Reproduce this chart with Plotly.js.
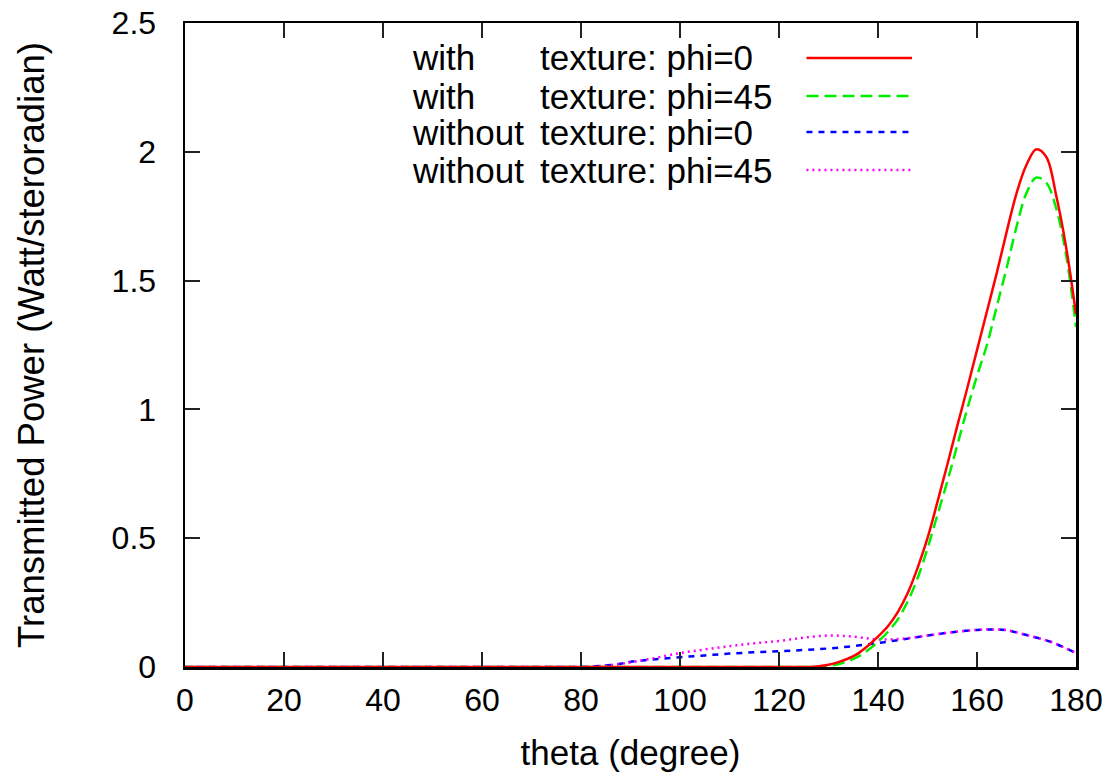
<!DOCTYPE html>
<html>
<head>
<meta charset="utf-8">
<script src="https://cdn.plot.ly/plotly-3.0.1.min.js"></script>
<style>html,body{margin:0;padding:0;background:#fff;}#chart{width:1113px;height:779px;}</style>
</head>
<body>
<div id="chart"></div>
<script>
// ---- data ----
const thetaWith0 = [0,20,40,60,80,100,110,120,124,126,128,130,132,134,136,138,140,142,144,146,148,150,152,154,156,158,160,162,164,166,168,170,172,174,176,178,180];
const powerWith0 = [0,0,0,0,0,0,0,0,0,0,0.003,0.009,0.019,0.033,0.053,0.083,0.118,0.158,0.213,0.287,0.385,0.5,0.64,0.785,0.935,1.08,1.23,1.38,1.53,1.69,1.84,1.95,2.01,1.98,1.83,1.63,1.37];

const thetaWith45 = [0,20,40,60,80,100,110,120,124,126,128,130,132,134,136,138,140,142,144,146,148,150,152,154,156,158,160,162,164,166,168,170,172,174,176,178,180];
const powerWith45 = [0,0,0,0,0,0,0,0,0,0,0,0.004,0.011,0.023,0.04,0.066,0.098,0.137,0.185,0.255,0.345,0.46,0.59,0.72,0.86,1.0,1.13,1.25,1.40,1.55,1.71,1.84,1.9,1.88,1.78,1.6,1.32];

const thetaWithout = [0,20,40,60,76,80,84,88,90,95,100,105,110,115,120,125,130,135,140,145,150,155,160,163,166,170,175,180];
const powerWithout0 = [0,0,0,0,0,0,0.004,0.013,0.02,0.03,0.038,0.045,0.052,0.057,0.061,0.066,0.072,0.081,0.093,0.107,0.122,0.135,0.144,0.146,0.143,0.124,0.097,0.054];
const powerWithout45 = [0,0,0,0,0,0,0.004,0.012,0.018,0.035,0.054,0.068,0.081,0.092,0.101,0.114,0.122,0.118,0.107,0.11,0.122,0.135,0.144,0.146,0.143,0.124,0.097,0.054];

const seriesNames = ["with", "with", "without", "without"];
const seriesTexts = ["texture: phi=0", "texture: phi=45", "texture: phi=0", "texture: phi=45"];
const xTicks = [0,20,40,60,80,100,120,140,160,180];
const yTicks = [0,0.5,1,1.5,2,2.5];
const yTickText = ["0","0.5","1","1.5","2","2.5"];

// ---- styles ----
const colors = ["#ff0000", "#00ee00", "#0000ff", "#ff00ff"];
const dashes = ["solid", "12px,6px", "6px,6px", "2px,4px"];
const font = "Liberation Sans, Arial, Helvetica, sans-serif";

const xs = [thetaWith0, thetaWith45, thetaWithout, thetaWithout];
const ys = [powerWith0, powerWith45, powerWithout0, powerWithout45];

// blue under magenta, then green, red on top
const order = [2, 3, 1, 0];
const traces = order.map(i => ({
  x: xs[i], y: ys[i], type: "scatter", mode: "lines",
  name: seriesNames[i] + " " + seriesTexts[i],
  line: {color: colors[i], width: 2.5, dash: dashes[i], shape: "spline", smoothing: 1},
  showlegend: false, hoverinfo: "skip"
}));

// manual gnuplot-style key: text on left, sample line on right
const rowY = [0.9457, 0.8866, 0.8306, 0.7717];
const annotations = [];
const shapes = [];
for (let i = 0; i < 4; i++) {
  annotations.push({xref: "paper", yref: "paper", x: 0.2525, y: rowY[i], xanchor: "left", yanchor: "middle",
    text: seriesNames[i], showarrow: false, font: {family: font, size: 35, color: "#000"}});
  annotations.push({xref: "paper", yref: "paper", x: 0.3965, y: rowY[i], xanchor: "left", yanchor: "middle",
    text: seriesTexts[i], showarrow: false, font: {family: font, size: 35, color: "#000"}});
  shapes.push({type: "line", xref: "paper", yref: "paper", x0: 0.6975, x1: 0.8159, y0: rowY[i], y1: rowY[i],
    line: {color: colors[i], width: 2.5, dash: dashes[i]}});
}

const axisCommon = {
  showline: true, linecolor: "#000", linewidth: 2.5, mirror: "allticks",
  ticks: "inside", ticklen: 15, tickwidth: 2, tickcolor: "#222",
  showgrid: false, zeroline: false,
  tickfont: {family: font, size: 32, color: "#000"}
};

const layout = {
  width: 1113, height: 779,
  margin: {l: 185, r: 37, t: 23, b: 112},
  paper_bgcolor: "#fff", plot_bgcolor: "#fff",
  showlegend: false,
  xaxis: Object.assign({}, axisCommon, {
    range: [0, 180], tickvals: xTicks, ticktext: xTicks.map(String),
    ticklabelstandoff: 3,
    title: {text: "theta (degree)", font: {family: font, size: 35, color: "#000"}, standoff: 24}
  }),
  yaxis: Object.assign({}, axisCommon, {
    range: [0, 2.5], tickvals: yTicks, ticktext: yTickText,
    ticklabelstandoff: 20,
    title: {text: "Transmitted Power (Watt/steroradian)", font: {family: font, size: 36.5, color: "#000"}, standoff: 56}
  }),
  annotations: annotations,
  shapes: shapes
};

Plotly.newPlot("chart", traces, layout, {displayModeBar: false, staticPlot: true});
</script>
</body>
</html>
